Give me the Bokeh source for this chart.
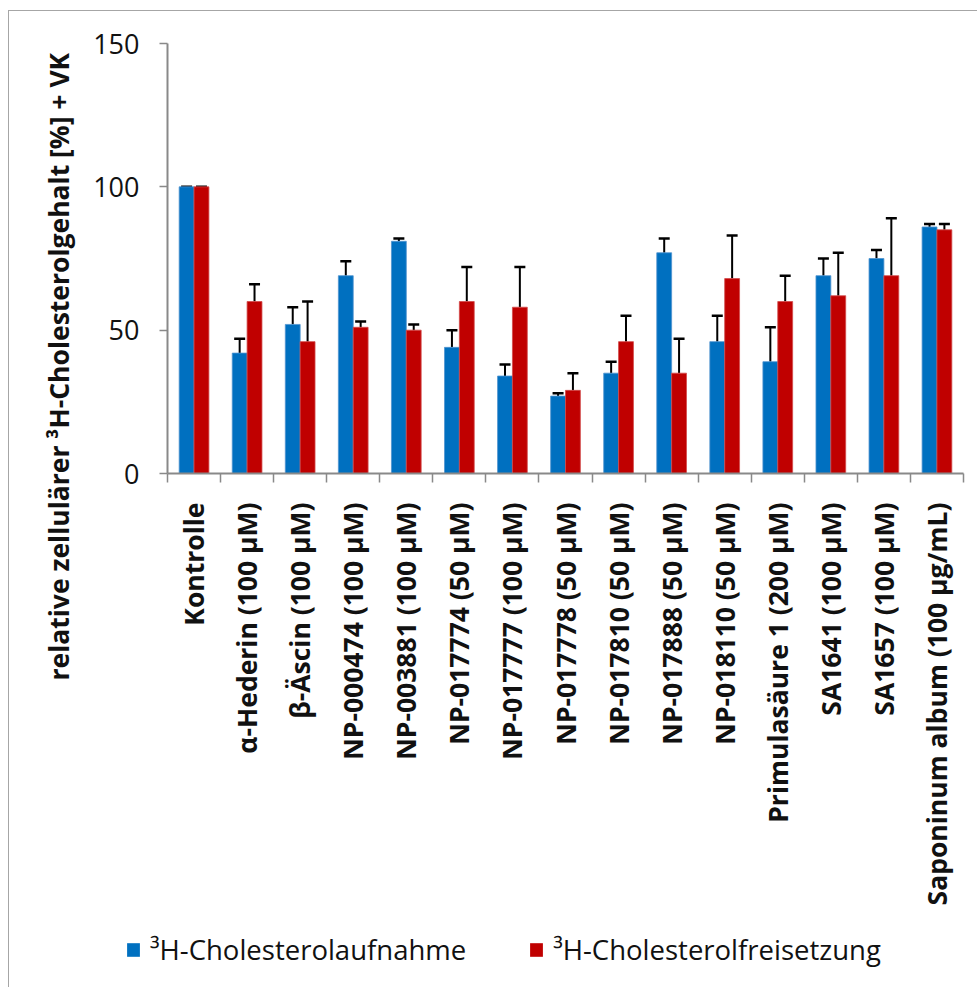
import math

from bokeh.plotting import figure
from bokeh.layouts import column, row
from bokeh.models import (ColumnDataSource, FixedTicker, Whisker, TeeHead, Legend,
                          LegendItem, Title)
from bokeh.embed import file_html
from bokeh.resources import INLINE

# Substances tested (x categories)
categories = [
    "Kontrolle",
    "α-Hederin (100 µM)",
    "β-Äscin (100 µM)",
    "NP-000474 (100 µM)",
    "NP-003881 (100 µM)",
    "NP-017774 (50 µM)",
    "NP-017777 (100 µM)",
    "NP-017778 (50 µM)",
    "NP-017810 (50 µM)",
    "NP-017888 (50 µM)",
    "NP-018110 (50 µM)",
    "Primulasäure 1 (200 µM)",
    "SA1641 (100 µM)",
    "SA1657 (100 µM)",
    "Saponinum album (100 µg/mL)",
]

# ³H-cholesterol uptake, % of control, with upper error (VK)
uptake = [100, 42, 52, 69, 81, 44, 34, 27, 35, 77, 46, 39, 69, 75, 86]
uptake_err = [0, 5, 6, 5, 1, 6, 4, 1, 4, 5, 9, 12, 6, 3, 1]

# ³H-cholesterol release, % of control, with upper error (VK)
release = [100, 60, 46, 51, 50, 60, 58, 29, 46, 35, 68, 60, 62, 69, 85]
release_err = [0, 6, 14, 2, 2, 12, 14, 6, 9, 12, 15, 9, 15, 20, 2]

y_ticks = [0, 50, 100, 150]
series_names = ["³H-Cholesterolaufnahme", "³H-Cholesterolfreisetzung"]

BLUE = "#0070C0"
RED = "#C00000"
AXIS_GRAY = "#898989"
FRAME_GRAY = "#a6a6a6"
FONT = "Open Sans"

n = len(categories)
centers = list(range(n))
bar_w = 0.28
offset = 0.14

src_up = ColumnDataSource(dict(
    x=[c - offset for c in centers],
    top=uptake,
    upper=[v + e for v, e in zip(uptake, uptake_err)],
))
src_rel = ColumnDataSource(dict(
    x=[c + offset for c in centers],
    top=release,
    upper=[v + e for v, e in zip(release, release_err)],
))

p = figure(
    width=968, height=906,
    x_range=(-0.5, n - 0.5), y_range=(0, 150),
    output_backend="svg", toolbar_location=None,
    min_border_left=158, min_border_right=14,
    min_border_top=32, min_border_bottom=444,
    background_fill_color="white", border_fill_color="white",
)
p.outline_line_color = None
p.grid.visible = False

p.vbar(x="x", top="top", width=bar_w, bottom=0, source=src_up,
       fill_color=BLUE, line_color="#4f93cf", line_width=0.8)
p.vbar(x="x", top="top", width=bar_w, bottom=0, source=src_rel,
       fill_color=RED, line_color="#d24a4a", line_width=0.8)

# upper error bars
for src in (src_up, src_rel):
    w = Whisker(base="x", lower="top", upper="upper", source=src,
                dimension="height", line_color="black", line_width=2,
                upper_head=TeeHead(size=11, line_color="black", line_width=2.5),
                lower_head=None)
    p.add_layout(w)

# y axis
ya = p.yaxis[0]
ya.ticker = FixedTicker(ticks=y_ticks)
ya.axis_line_color = AXIS_GRAY
ya.axis_line_width = 2
ya.major_tick_line_color = AXIS_GRAY
ya.major_tick_line_width = 1.5
ya.major_tick_out = 8
ya.major_tick_in = 0
ya.minor_tick_line_color = None
ya.major_label_text_font = FONT
ya.major_label_text_font_size = "27px"
ya.major_label_text_color = "#111111"
ya.major_label_standoff = 20

# x axis: labels at category centres, tick marks at the boundaries
xa = p.xaxis[0]
xa.ticker = FixedTicker(ticks=centers, minor_ticks=[c + 0.5 for c in range(-1, n)])
xa.major_label_overrides = {i: name for i, name in enumerate(categories)}
xa.axis_line_color = AXIS_GRAY
xa.axis_line_width = 2
xa.major_tick_out = 0
xa.major_tick_in = 0
xa.major_tick_line_color = None
xa.minor_tick_line_color = AXIS_GRAY
xa.minor_tick_line_width = 1.5
xa.minor_tick_out = 9
xa.minor_tick_in = 0
xa.major_label_orientation = math.pi / 2
xa.major_label_text_font = FONT
xa.major_label_text_font_style = "bold"
xa.major_label_text_font_size = "26.5px"
xa.major_label_text_color = "#111111"
xa.major_label_standoff = 20

# y axis title, starting below the frame bottom and reading upwards
p.add_layout(Title(
    text="relative zellulärer ³H-Cholesterolgehalt [%] + VK",
    align="left", offset=-207, standoff=26, vertical_align="middle",
    text_font=FONT, text_font_style="bold", text_font_size="26.5px",
    text_color="#111111",
), "left")

# legend strip underneath the chart; its bars sit outside the visible range,
# only their legend keys are shown
leg = figure(
    width=968, height=70, x_range=(-0.5, n - 0.5), y_range=(1000, 1001),
    output_backend="svg", toolbar_location=None,
    min_border_left=0, min_border_right=0, min_border_top=0, min_border_bottom=0,
    background_fill_color="white", border_fill_color="white",
)
leg.axis.visible = False
leg.grid.visible = False
leg.outline_line_color = None
k_up = leg.vbar(x="x", top="top", width=bar_w, source=src_up,
                fill_color=BLUE, line_color=None)
k_rel = leg.vbar(x="x", top="top", width=bar_w, source=src_rel,
                 fill_color=RED, line_color=None)
legend = Legend(
    items=[LegendItem(label=series_names[0], renderers=[k_up]),
           LegendItem(label=series_names[1], renderers=[k_rel])],
    orientation="horizontal", location=(116, 19),
    glyph_width=16, glyph_height=17, label_standoff=9, spacing=62,
    padding=0, margin=0,
    label_text_font=FONT, label_text_font_size="27.5px", label_text_color="#111111",
    border_line_color=None, background_fill_alpha=0,
)
leg.add_layout(legend)

page = column(p, row(leg, spacing=0), spacing=0)
# thin frame around the chart area (left and top edges)
page.styles = {
    "margin-left": "8px", "margin-top": "10px",
    "border-left": f"1px solid {FRAME_GRAY}", "border-top": f"1px solid {FRAME_GRAY}",
}

open("out.html", "w").write(file_html(page, INLINE))
